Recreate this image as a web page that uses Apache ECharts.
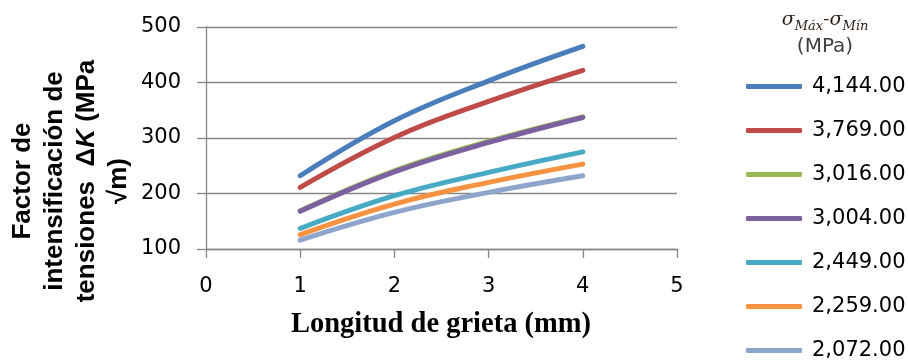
<!DOCTYPE html>
<html><head><meta charset="utf-8">
<script src="https://cdn.jsdelivr.net/npm/echarts@6/dist/echarts.min.js"></script>
<style>html,body{margin:0;padding:0;background:#fff}#c{width:908px;height:361px}</style>
</head><body><div id="c"></div>
<script>
const crackLengths = [1, 2, 3, 4];
const legendNames = ['4,144.00', '3,769.00', '3,016.00', '3,004.00', '2,449.00', '2,259.00', '2,072.00'];
const k4144 = [232, 331, 403, 465];
const k3769 = [211, 301, 366, 422];
const k3016 = [169, 241, 294, 338];
const k3004 = [168, 239, 292, 337];
const k2449 = [137, 196, 238, 275];
const k2259 = [126, 181, 220, 253];
const k2072 = [116, 166, 202, 232];
const seriesValues = [k4144, k3769, k3016, k3004, k2449, k2259, k2072];
const colors = ['#4A7EBB', '#BE4B48', '#98B954', '#7D60A0', '#46AAC5', '#F69240', '#8EA5CB'];
const xTicks = [0, 1, 2, 3, 4, 5];
const yTicks = [100, 200, 300, 400, 500];

const chart = echarts.init(document.getElementById('c'), null, {renderer: 'canvas'});
const series = seriesValues.map((vals, i) => ({
  name: legendNames[i],
  type: 'line',
  smooth: 0.4,
  symbol: 'none',
  data: vals.map((v, j) => [crackLengths[j], v]),
  lineStyle: {width: 5, color: colors[i], cap: 'round', join: 'round'},
  itemStyle: {color: colors[i]}
}));

chart.setOption({
  animation: false,
  grid: {left: 206, right: 231, top: 27, bottom: 112},
  xAxis: {
    type: 'value', min: xTicks[0], max: xTicks[xTicks.length - 1], interval: 1,
    axisLine: {show: true, lineStyle: {color: '#868686', width: 1.3}},
    axisTick: {show: true, length: 9, lineStyle: {color: '#868686', width: 1.3}},
    axisLabel: {margin: 27, fontFamily: 'DejaVu Sans', fontSize: 21, color: '#000'},
    splitLine: {show: false}
  },
  yAxis: {
    type: 'value', min: yTicks[0], max: yTicks[yTicks.length - 1], interval: 100,
    axisLine: {show: true, lineStyle: {color: '#868686', width: 1.3}},
    axisTick: {show: true, length: 9, lineStyle: {color: '#868686', width: 1.3}},
    axisLabel: {margin: 25, fontFamily: 'DejaVu Sans', fontSize: 21, color: '#000'},
    splitLine: {show: true, lineStyle: {color: '#868686', width: 1.3}}
  },
  legend: {
    orient: 'vertical', left: 741, top: 69.5, height: 340,
    icon: 'roundRect', itemWidth: 56, itemHeight: 5, itemGap: 20,
    textStyle: {fontFamily: 'DejaVu Sans', fontSize: 21, color: '#000', lineHeight: 24, padding: [0, 0, 0, 5]},
    data: legendNames
  },
  graphic: [
    {
      type: 'text', x: 71, y: 181, rotation: Math.PI / 2,
      style: {
        text: '{b|Factor de}\n{b|intensificación de}\n{b|tensiones  Δ}{i|K}{b| (MPa}\n{b|√m)}',
        align: 'center', verticalAlign: 'middle',
        rich: {
          b: {fontFamily: 'Liberation Sans', fontWeight: 'bold', fontSize: 26, lineHeight: 32, fill: '#000', align: 'center'},
          i: {fontFamily: 'Liberation Sans', fontWeight: 'bold', fontStyle: 'italic', fontSize: 26, lineHeight: 32, fill: '#000'}
        }
      }
    },
    {
      type: 'text', x: 441, y: 325,
      style: {
        text: 'Longitud de grieta (mm)', align: 'center', verticalAlign: 'middle',
        font: 'bold 28.5px "Liberation Serif"', fill: '#000'
      }
    },
    {
      type: 'text', x: 825, y: 20,
      style: {
        text: '{s|σ}{sub|Máx}{s|-σ}{sub|Mín}', align: 'center', verticalAlign: 'middle',
        rich: {
          s: {fontFamily: 'DejaVu Serif', fontStyle: 'italic', fontSize: 19, fill: '#2b1d14', verticalAlign: 'bottom'},
          sub: {fontFamily: 'DejaVu Serif', fontStyle: 'italic', fontSize: 13, fill: '#2b1d14', verticalAlign: 'bottom', padding: [0, 0, -4, 0]}
        }
      }
    },
    {
      type: 'text', x: 825, y: 47,
      style: {text: '(MPa)', align: 'center', verticalAlign: 'middle', font: '20px "DejaVu Sans"', fill: '#404040'}
    }
  ],
  series: series
});
</script></body></html>
